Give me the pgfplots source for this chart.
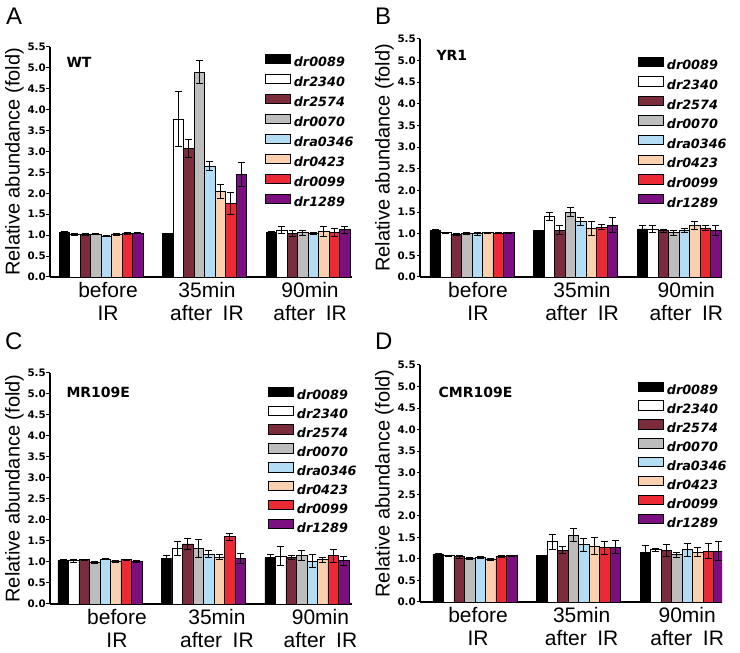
\documentclass[border=0pt]{standalone}
\usepackage{fontspec}
\setmainfont{Liberation Sans}
\newfontfamily\dejavu{DejaVu Sans}
\usepackage{pgfplots}
\pgfplotsset{compat=1.18}
\definecolor{cA}{HTML}{000000}
\definecolor{cB}{HTML}{FFFFFF}
\definecolor{cC}{HTML}{7A2C3D}
\definecolor{cD}{HTML}{BDBDBD}
\definecolor{cE}{HTML}{B3DDF4}
\definecolor{cF}{HTML}{FBD0AF}
\definecolor{cG}{HTML}{EC2A35}
\definecolor{cH}{HTML}{7B0F80}
\tikzset{strain/.style={anchor=west, font=\dejavu\bfseries\fontsize{14}{14}\selectfont}}
\pgfplotsset{
  panel/.style={
    scale only axis, width=302pt,
    ymin=0, ymax=5.5,
    ytick={0,0.5,1,1.5,2,2.5,3,3.5,4,4.5,5,5.5},
    axis x line*=bottom, axis y line*=left,
    axis line style={line width=1.1pt, black},
    tick align=outside,
    major tick length=3.5pt,
    ytick style={line width=1pt, black},
    xtick style={draw=none},
    yticklabel style={font=\dejavu\bfseries\fontsize{10.3}{11}\selectfont, inner sep=0.5pt},
    /pgf/number format/fixed, /pgf/number format/fixed zerofill, /pgf/number format/precision=1,
    /pgf/number format/assume math mode=true,
    ybar=0pt, bar width=10.5pt,
    ylabel={Relative abundance (fold)},
    ylabel style={font=\fontsize{20}{20}\selectfont, at={(axis description cs:-0.118,0.5)}, anchor=center},
    xticklabel style={font=\fontsize{21}{23}\selectfont, align=center, inner sep=0pt, yshift=-2pt},
    legend cell align=left,
    legend image code/.code={\draw[#1, line width=0.8pt] (0pt,0pt) rectangle (25pt,9.3pt);},
    legend style={draw=none, fill=none, anchor=north west, inner sep=0pt, outer sep=0pt,
      column sep=3pt, font=\dejavu\bfseries\itshape\fontsize{12.8}{13}\selectfont,
      nodes={inner sep=0pt, text height=10pt, text depth=3pt}},
    every axis plot/.append style={draw=black, line width=0.8pt,
      error bars/y dir=both, error bars/y explicit,
      error bars/error bar style={line width=0.9pt, black},
      error bars/error mark options={rotate=90, mark size=3.3pt, line width=0.9pt, black}},
  },
}
\begin{document}
\begin{tikzpicture}
\useasboundingbox (0,0) rectangle (740pt,653pt);
\node[anchor=base west, font=\fontsize{24}{24}\selectfont, inner sep=0pt] at (6pt,628pt) {A};
\node[anchor=base west, font=\fontsize{24}{24}\selectfont, inner sep=0pt] at (375pt,628pt) {B};
\node[anchor=base west, font=\fontsize{24}{24}\selectfont, inner sep=0pt] at (5pt,303pt) {C};
\node[anchor=base west, font=\fontsize{24}{24}\selectfont, inner sep=0pt] at (375pt,303pt) {D};

% ---------- A: WT ----------
\begin{axis}[panel, at={(50pt,376pt)}, anchor=south west, height=230pt,
  xmin=-0.493, xmax=2.425,
  xtick={0.068,1.024,2.02},
  xticklabels={before\\IR, 35min\\after\hspace{0.5em}IR, 90min\\after\hspace{0.5em}IR},
  legend style={at={(rel axis cs:0.712,0.971)}, row sep=3.8pt}]
\addplot[fill=cA] coordinates {(0,1.06) +- (0,0.02) (1,1.05) +- (0,0) (2,1.06) +- (0,0.02)};
\addplot[fill=cB] coordinates {(0,1.01) +- (0,0.02) (1,3.78) +- (0,0.66) (2,1.12) +- (0,0.08)};
\addplot[fill=cC] coordinates {(0,1.02) +- (0,0.02) (1,3.07) +- (0,0.22) (2,1.04) +- (0,0.07)};
\addplot[fill=cD] coordinates {(0,1.03) +- (0,0.02) (1,4.90) +- (0,0.27) (2,1.06) +- (0,0.06)};
\addplot[fill=cE] coordinates {(0,0.98) +- (0,0.02) (1,2.65) +- (0,0.11) (2,1.04) +- (0,0.03)};
\addplot[fill=cF] coordinates {(0,1.02) +- (0,0.02) (1,2.05) +- (0,0.16) (2,1.09) +- (0,0.12)};
\addplot[fill=cG] coordinates {(0,1.04) +- (0,0.02) (1,1.76) +- (0,0.27) (2,1.07) +- (0,0.09)};
\addplot[fill=cH] coordinates {(0,1.05) +- (0,0.02) (1,2.45) +- (0,0.29) (2,1.13) +- (0,0.08)};
\legend{dr0089,dr2340,dr2574,dr0070,dra0346,dr0423,dr0099,dr1289}
\node[strain] at (rel axis cs:0.043,0.935) {WT};
\end{axis}

% ---------- B: YR1 ----------
\begin{axis}[panel, at={(420pt,376pt)}, anchor=south west, height=238pt,
  xmin=-0.502, xmax=2.415,
  xtick={0.058,1.063,2.07},
  xticklabels={before\\IR, 35min\\after\hspace{0.5em}IR, 90min\\after\hspace{0.5em}IR},
  legend style={at={(rel axis cs:0.722,0.926)}, row sep=3.4pt}]
\addplot[fill=cA] coordinates {(0,1.07) +- (0,0.02) (1,1.07) +- (0,0) (2,1.11) +- (0,0.08)};
\addplot[fill=cB] coordinates {(0,1.02) +- (0,0.02) (1,1.40) +- (0,0.09) (2,1.10) +- (0,0.08)};
\addplot[fill=cC] coordinates {(0,0.99) +- (0,0.02) (1,1.08) +- (0,0.10) (2,1.07) +- (0,0.04)};
\addplot[fill=cD] coordinates {(0,1.01) +- (0,0.02) (1,1.50) +- (0,0.10) (2,1.02) +- (0,0.06)};
\addplot[fill=cE] coordinates {(0,1.00) +- (0,0.03) (1,1.28) +- (0,0.09) (2,1.08) +- (0,0.04)};
\addplot[fill=cF] coordinates {(0,1.02) +- (0,0.01) (1,1.12) +- (0,0.16) (2,1.19) +- (0,0.09)};
\addplot[fill=cG] coordinates {(0,1.01) +- (0,0.01) (1,1.15) +- (0,0.06) (2,1.13) +- (0,0.06)};
\addplot[fill=cH] coordinates {(0,1.02) +- (0,0.01) (1,1.20) +- (0,0.17) (2,1.08) +- (0,0.12)};
\legend{dr0089,dr2340,dr2574,dr0070,dra0346,dr0423,dr0099,dr1289}
\node[strain] at (rel axis cs:0.043,0.933) {YR1};
\end{axis}

% ---------- C: MR109E ----------
\begin{axis}[panel, at={(50pt,49pt)}, anchor=south west, height=231pt,
  xmin=-0.483, xmax=2.435,
  xtick={0.164,1.13,2.13},
  xticklabels={before\\IR, 35min\\after\hspace{0.5em}IR, 90min\\after\hspace{0.5em}IR},
  legend style={at={(rel axis cs:0.722,0.941)}, row sep=2.7pt}]
\addplot[fill=cA] coordinates {(0,1.03) +- (0,0.02) (1,1.08) +- (0,0.08) (2,1.10) +- (0,0.09)};
\addplot[fill=cB] coordinates {(0,1.03) +- (0,0.03) (1,1.32) +- (0,0.16) (2,1.14) +- (0,0.23)};
\addplot[fill=cC] coordinates {(0,1.05) +- (0,0.02) (1,1.43) +- (0,0.14) (2,1.11) +- (0,0.05)};
\addplot[fill=cD] coordinates {(0,0.99) +- (0,0.02) (1,1.33) +- (0,0.21) (2,1.15) +- (0,0.12)};
\addplot[fill=cE] coordinates {(0,1.07) +- (0,0.02) (1,1.19) +- (0,0.09) (2,1.02) +- (0,0.15)};
\addplot[fill=cF] coordinates {(0,1.01) +- (0,0.02) (1,1.12) +- (0,0.07) (2,1.06) +- (0,0.06)};
\addplot[fill=cG] coordinates {(0,1.05) +- (0,0.02) (1,1.60) +- (0,0.09) (2,1.15) +- (0,0.15)};
\addplot[fill=cH] coordinates {(0,1.02) +- (0,0.02) (1,1.09) +- (0,0.12) (2,1.03) +- (0,0.11)};
\legend{dr0089,dr2340,dr2574,dr0070,dra0346,dr0423,dr0099,dr1289}
\node[strain] at (rel axis cs:0.043,0.918) {MR109E};
\end{axis}

% ---------- D: CMR109E ----------
\begin{axis}[panel, at={(420pt,51pt)}, anchor=south west, height=237pt,
  xmin=-0.531, xmax=2.386,
  xtick={0.03,1.03,2.05},
  xticklabels={before\\IR, 35min\\after\hspace{0.5em}IR, 90min\\after\hspace{0.5em}IR},
  legend style={at={(rel axis cs:0.722,0.930)}, row sep=2.7pt}]
\addplot[fill=cA] coordinates {(0,1.10) +- (0,0.02) (1,1.09) +- (0,0) (2,1.16) +- (0,0.15)};
\addplot[fill=cB] coordinates {(0,1.07) +- (0,0.01) (1,1.40) +- (0,0.17) (2,1.21) +- (0,0.04)};
\addplot[fill=cC] coordinates {(0,1.05) +- (0,0.04) (1,1.20) +- (0,0.08) (2,1.19) +- (0,0.14)};
\addplot[fill=cD] coordinates {(0,1.01) +- (0,0.02) (1,1.55) +- (0,0.15) (2,1.10) +- (0,0.06)};
\addplot[fill=cE] coordinates {(0,1.04) +- (0,0.02) (1,1.33) +- (0,0.15) (2,1.21) +- (0,0.16)};
\addplot[fill=cF] coordinates {(0,0.98) +- (0,0.02) (1,1.30) +- (0,0.20) (2,1.16) +- (0,0.10)};
\addplot[fill=cG] coordinates {(0,1.06) +- (0,0.02) (1,1.26) +- (0,0.15) (2,1.18) +- (0,0.18)};
\addplot[fill=cH] coordinates {(0,1.07) +- (0,0.02) (1,1.27) +- (0,0.15) (2,1.18) +- (0,0.22)};
\legend{dr0089,dr2340,dr2574,dr0070,dra0346,dr0423,dr0099,dr1289}
\node[strain] at (rel axis cs:0.05,0.886) {CMR109E};
\end{axis}
\end{tikzpicture}
\end{document}
